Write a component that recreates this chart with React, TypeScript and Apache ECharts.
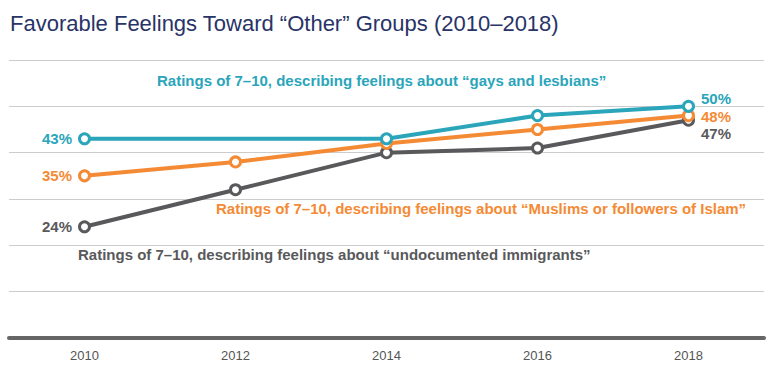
import React, { useEffect, useRef } from "react";
import * as echarts from "echarts";

const years = ["2010", "2012", "2014", "2016", "2018"];
// 2012 has no reading for this group; the line bridges 2010 and 2014
const gaysLesbians = [43, null, 43, 48, 50];
const muslims = [35, 38, 42, 45, 48];
const undocumented = [24, 32, 40, 41, 47];

const TEAL = "#2aa5ba";
const ORANGE = "#f58a35";
const GRAY = "#59595b";
const NAVY = "#283367";
const FONT = "'Liberation Sans', Arial, Helvetica, sans-serif";

function mkData(vals: (number | null)[], color: string, endOffset: number[]) {
  return vals.map((v, i) => {
    if (i === 0) {
      return {
        value: v,
        label: { show: true, position: "left", distance: 6, formatter: "{c}%", color, fontWeight: "bold", fontSize: 15, fontFamily: FONT },
      };
    }
    if (i === vals.length - 1) {
      return {
        value: v,
        label: { show: true, position: "right", distance: 6, offset: endOffset, formatter: "{c}%", color, fontWeight: "bold", fontSize: 15, fontFamily: FONT },
      };
    }
    return v;
  });
}

function line(name: string, vals: (number | null)[], color: string, endOffset: number[], z: number) {
  return {
    name,
    type: "line",
    z,
    connectNulls: true,
    data: mkData(vals, color, endOffset),
    symbol: "circle",
    symbolSize: 10,
    lineStyle: { color, width: 4 },
    itemStyle: { color: "#ffffff", borderColor: color, borderWidth: 3 },
    label: { show: false },
  };
}

export default function App() {
  const ref = useRef<HTMLDivElement>(null);
  useEffect(() => {
    if (!ref.current) return;
    const chart = echarts.init(ref.current, undefined, { renderer: "svg" });
    chart.setOption({
      animation: false,
      backgroundColor: "#ffffff",
      textStyle: { fontFamily: FONT },
      grid: { left: 9, right: 16, top: 60, bottom: 39 },
      xAxis: {
        type: "category",
        data: years,
        boundaryGap: true,
        axisLine: { show: true, lineStyle: { color: "#666666", width: 4 } },
        axisTick: { show: false },
        axisLabel: { color: "#555555", fontSize: 13, margin: 11, fontFamily: FONT },
      },
      yAxis: {
        type: "value",
        min: 0,
        max: 60,
        interval: 10,
        axisLabel: { show: false },
        axisLine: { show: false },
        axisTick: { show: false },
        splitLine: { lineStyle: { color: "#cccccc", width: 1 } },
      },
      graphic: [
        {
          type: "text",
          left: 10,
          top: 12,
          style: { text: "Favorable Feelings Toward \u201cOther\u201d Groups (2010\u20132018)", fill: NAVY, fontSize: 22, fontFamily: FONT },
        },
        {
          type: "text",
          left: 157,
          top: 73,
          style: { text: "Ratings of 7\u201310, describing feelings about \u201cgays and lesbians\u201d", fill: TEAL, fontSize: 15, fontWeight: "bold", fontFamily: FONT },
        },
        {
          type: "text",
          left: 216,
          top: 201,
          style: { text: "Ratings of 7\u201310, describing feelings about \u201cMuslims or followers of Islam\u201d", fill: ORANGE, fontSize: 15, fontWeight: "bold", fontFamily: FONT },
        },
        {
          type: "text",
          left: 78,
          top: 247,
          style: { text: "Ratings of 7\u201310, describing feelings about \u201cundocumented immigrants\u201d", fill: GRAY, fontSize: 15, fontWeight: "bold", fontFamily: FONT },
        },
      ],
      series: [
        line("undocumented immigrants", undocumented, GRAY, [0, 13], 2),
        line("Muslims or followers of Islam", muslims, ORANGE, [0, 1], 3),
        line("gays and lesbians", gaysLesbians, TEAL, [0, -8], 4),
      ],
    });
    return () => chart.dispose();
  }, []);
  return <div ref={ref} style={{ width: 780, height: 377, position: "absolute", left: 0, top: 0 }} />;
}
